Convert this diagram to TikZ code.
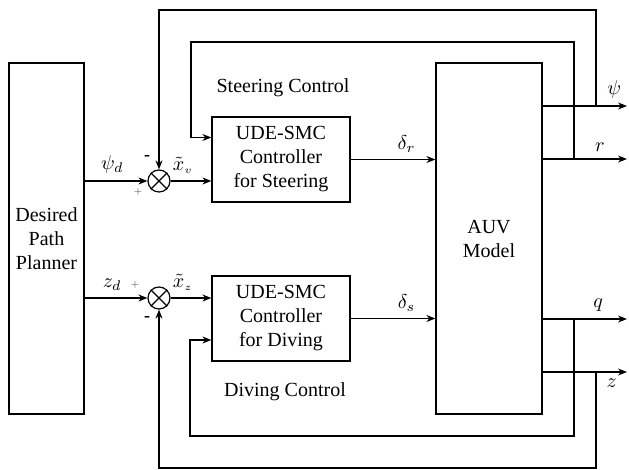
\documentclass[tikz,border=0pt]{standalone}
\usepackage{fontspec}
\setmainfont{Liberation Serif}
\usetikzlibrary{arrows.meta}

\tikzset{
  block/.style={draw, align=center, inner sep=2pt},
  sumnode/.style={draw, circle, minimum size=11pt, inner sep=0pt},
  sig/.style={-{Stealth[length=4.5pt,width=3.5pt]}},
  plussign/.style={text=gray, font=\scriptsize, inner sep=0pt},
  minussign/.style={font=\small\bfseries, inner sep=0pt},
}
\newcommand{\xt}[1]{\tilde{x}_{\scriptscriptstyle #1}}

\begin{document}
\begin{tikzpicture}[x=0.5pt, y=-0.5pt, line width=0.6pt]
  \useasboundingbox (0,0) rectangle (629,470);
  % blocks
  \node[block, minimum width=37.5pt, minimum height=175.5pt] (planner) at (46.5,238.5) {Desired\\Path\\Planner};
  \node[block, minimum width=53pt, minimum height=175.5pt] (auv) at (489,238.5) {AUV\\Model};
  \node[block, minimum width=69pt, minimum height=42.5pt] (steer) at (281,159.5) {UDE-SMC\\Controller\\for Steering};
  \node[block, minimum width=69pt, minimum height=42.5pt] (dive) at (281,318.5) {UDE-SMC\\Controller\\for Diving};
  \node (steerlbl) at (283,88) {Steering Control};
  \node (divelbl) at (285,392) {Diving Control};
  % summing junctions
  \node[sumnode] (sumv) at (159,181) {};
  \node[sumnode] (sumz) at (159,298) {};
  \foreach \s in {sumv, sumz} {
    \draw (\s.north west) -- (\s.south east);
    \draw (\s.north east) -- (\s.south west);
  }
  \node[minussign, xshift=-6pt, yshift=11.5pt] (mv) at (sumv) {-};
  \node[plussign, xshift=-10.5pt, yshift=-6pt] (pv) at (sumv) {+};
  \node[plussign, xshift=-12pt, yshift=6pt] (pz) at (sumz) {+};
  \node[minussign, xshift=-6pt, yshift=-10.5pt] (mz) at (sumz) {-};

  % forward paths
  \draw[sig] (planner.east |- sumv) -- node[pos=0.44, above] {$\psi_d$} (sumv.west);
  \draw[sig] (planner.east |- sumz) -- node[pos=0.44, above] {$z_d$} (sumz.west);
  \draw[sig] (sumv.east) -- node[pos=0.3, above] {$\xt{v}$} (steer.west |- sumv);
  \draw[sig] (sumz.east) -- node[pos=0.3, above] {$\xt{z}$} (dive.west |- sumz);
  \draw[sig] (steer.east) -- node[pos=0.66, above] {$\delta_r$} (auv.west |- steer.east);
  \draw[sig] (dive.east) -- node[pos=0.66, above] {$\delta_s$} (auv.west |- dive.east);

  % outputs
  \coordinate (outpsi) at (627,106);
  \coordinate (outr) at (627,159);
  \coordinate (outq) at (627,319);
  \coordinate (outz) at (627,372);
  \draw[sig] (auv.east |- outpsi) -- node[pos=0.85, above] {$\psi$} (outpsi);
  \draw[sig] (auv.east |- outr) -- node[pos=0.68, above] {$r$} (outr);
  \draw[sig] (auv.east |- outq) -- node[pos=0.66, above] {$q$} (outq);
  \draw[sig] (auv.east |- outz) -- node[pos=0.82, below] {$z$} (outz);

  % feedback
  \coordinate (tappsi) at (596,106);
  \coordinate (tapr) at (574,159);
  \coordinate (tapq) at (574,319);
  \coordinate (tapz) at (596,372);
  \coordinate (fbr) at (191,42);
  \coordinate (fbq) at (190,436);
  \draw[sig] (tappsi) -- ++(0,-96) -| (sumv.north);
  \draw[sig] (tapr) |- (fbr) |- ([yshift=11pt]steer.west);
  \draw[sig] (tapq) |- (fbq) |- ([yshift=-10.75pt]dive.west);
  \draw[sig] (tapz) -- ++(0,96) -| (sumz.south);
\end{tikzpicture}
\end{document}
